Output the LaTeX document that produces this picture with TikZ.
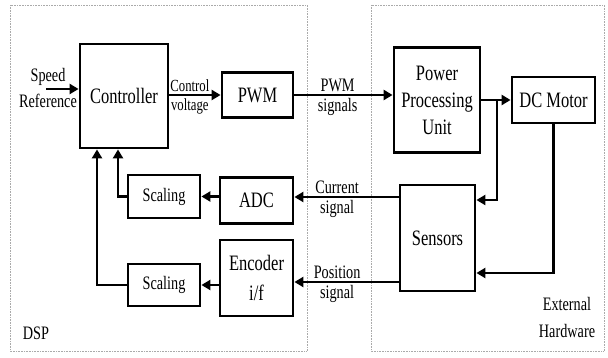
\documentclass[tikz,border=0pt]{standalone}
\usepackage{fontspec}
\setmainfont{Liberation Serif}[FakeStretch=0.75]
\usetikzlibrary{arrows.meta}
\definecolor{regionline}{RGB}{170,170,170}

\begin{document}
\begin{tikzpicture}[x=1pt,y=-1pt,
 box/.style={draw,line width=2.8pt,align=center,inner sep=0pt,font=\fontsize{22}{27}\selectfont},
 smallbox/.style={box,font=\fontsize{19}{23}\selectfont},
 flow/.style={-{Triangle[length=9pt,width=10pt]},line width=2.6pt},
 tag/.style={align=center,inner sep=2pt,font=\fontsize{19}{26}\selectfont},
 region/.style={draw=regionline,densely dotted,line width=0.6pt}]
\useasboundingbox (0,0) rectangle (608,358);
\draw[region] (10,5) rectangle (307,351);
\draw[region] (371,5) rectangle (604,351);
\node[box,minimum width=88pt,minimum height=104pt] (ctrl) at (124,96) {Controller};
\node[box,minimum width=71pt,minimum height=45pt] (pwm) at (257.5,95) {PWM};
\node[box,minimum width=86pt,minimum height=105pt] (ppu) at (437,100) {Power\\Processing\\Unit};
\node[box,minimum width=83pt,minimum height=46pt] (dcm) at (553.5,100) {DC Motor};
\node[box,minimum width=75pt,minimum height=106pt] (sens) at (437.5,238) {Sensors};
\node[box,minimum width=73pt,minimum height=46pt] (adc) at (256.5,200.5) {ADC};
\node[box,minimum width=73pt,minimum height=76pt,font=\fontsize{22}{30}\selectfont] (enc) at (256.5,278) {Encoder\\i/f};
\node[smallbox,minimum width=72pt,minimum height=43pt] (scc) at (164,196.5) {Scaling};
\node[smallbox,minimum width=72pt,minimum height=42pt] (scp) at (164,285) {Scaling};
\node[tag] (spd) at (48,88) {Speed\\Reference};
\coordinate (spdin) at (46,89);
\draw[flow] (spdin) -- (spdin -| ctrl.west);
\draw[flow] (pwm.west -| ctrl.east) -- (pwm.west)
  node[tag,pos=0.4,above,font=\fontsize{17}{20}\selectfont] {Control}
  node[tag,pos=0.4,below,font=\fontsize{17}{20}\selectfont] {voltage};
\draw[flow] (pwm.east) -- (pwm.east -| ppu.west)
  node[tag,pos=0.44,above] {PWM} node[tag,pos=0.44,below] {signals};
\draw[flow] (ppu.east) -- (dcm.west);
\coordinate (tap) at (497,100);
\draw[flow] (tap) |- ([yshift=38pt]sens.east);
\draw[flow] (dcm.south) |- ([yshift=-35pt]sens.east);
\draw[flow] ([yshift=41pt]sens.west) -- ([yshift=41pt]sens.west -| adc.east)
  node[tag,pos=0.59,above] {Current} node[tag,pos=0.59,below] {signal};
\draw[flow] ([yshift=-44pt]sens.west) -- ([yshift=-44pt]sens.west -| enc.east)
  node[tag,pos=0.59,above] {Position} node[tag,pos=0.59,below] {signal};
\draw[flow] (scc.east -| adc.west) -- (scc.east);
\draw[flow] (scp.east -| enc.west) -- (scp.east);
\draw[flow] (scc.west) -| ([xshift=-6pt]ctrl.south);
\draw[flow] (scp.west) -| ([xshift=-27pt]ctrl.south);
\node[tag] (dsp) at (36,333) {DSP};
\node[tag,font=\fontsize{19}{27}\selectfont] (ext) at (567,318) {External\\Hardware};
\end{tikzpicture}
\end{document}
